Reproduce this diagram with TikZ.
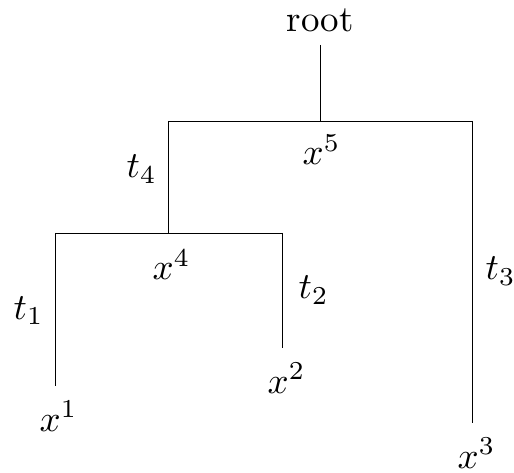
\documentclass[tikz,border=0pt]{standalone}
\begin{document}
\begin{tikzpicture}[x=0.271pt,y=-0.271pt,
  lbl/.style={inner sep=0pt,anchor=base west},
  branch/.style={draw=black,line width=0.25pt}]
\useasboundingbox (0,0) rectangle (514,473);
% labels
\node[lbl] (root) at (286,32) {root};
\node[lbl] (x5) at (302,165) {$x^5$};
\node[lbl] (t4) at (126,178) {$t_4$};
\node[lbl] (x4) at (152,280) {$x^4$};
\node[lbl] (t1) at (13,319) {$t_1$};
\node[lbl] (t2) at (298,299) {$t_2$};
\node[lbl] (x2) at (267,393) {$x^2$};
\node[lbl] (x1) at (39,431) {$x^1$};
\node[lbl] (t3) at (485,280) {$t_3$};
\node[lbl] (x3) at (457,468) {$x^3$};
% joints
\coordinate (r0) at (320,45);
\coordinate (r1) at (320,121);
\coordinate (aL) at (168,121);
\coordinate (aR) at (472,121);
\coordinate (bM) at (168,233);
\coordinate (bL) at (55,233);
\coordinate (bR) at (282,233);
\coordinate (e1) at (55,386);
\coordinate (e2) at (282,348);
\coordinate (e3) at (472,423);
% branches
\draw[branch] (r0) -- (r1);
\draw[branch] (aL) -- (aR);
\draw[branch] (aL) -- (bM);
\draw[branch] (aR) -- (e3);
\draw[branch] (bL) -- (bR);
\draw[branch] (bL) -- (e1);
\draw[branch] (bR) -- (e2);
\end{tikzpicture}
\end{document}
